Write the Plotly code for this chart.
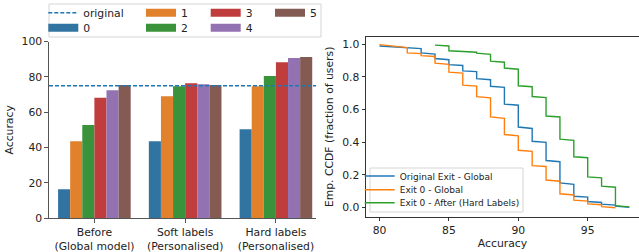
import plotly.graph_objects as go

# ---------------- data ----------------
CATEGORIES = ["Before<br>(Global model)", "Soft labels<br>(Personalised)", "Hard labels<br>(Personalised)"]
EXIT_NAMES = ["0", "1", "2", "3", "4", "5"]
EXIT_0 = [16.3, 43.6, 50.4]
EXIT_1 = [43.6, 69.1, 74.8]
EXIT_2 = [52.7, 74.8, 80.5]
EXIT_3 = [68.2, 76.5, 88.4]
EXIT_4 = [72.5, 75.9, 90.7]
EXIT_5 = [75.4, 75.4, 91.3]
ORIGINAL = 75.0

# CCDF step data: value just before each step (x) and value just after it
BLUE_X = [80, 81, 82, 83, 84, 85, 86, 87, 88, 89, 90, 91, 92, 93, 94, 95, 96, 97, 98]
BLUE_BEFORE = [None, 0.984, 0.979, 0.972, 0.938, 0.904, 0.869, 0.831, 0.782, 0.735, 0.626,
               0.484, 0.399, 0.281, 0.143, 0.065, 0.032, 0.016, 0.002]
BLUE_AFTER = [0.988, 0.984, 0.979, 0.946, 0.911, 0.874, 0.836, 0.788, 0.742, 0.633, 0.493,
              0.406, 0.288, 0.151, 0.070, 0.038, 0.022, 0.009, None]

ORANGE_X = [80, 81, 82, 83, 84, 85, 86, 87, 88, 89, 90, 91, 92, 93, 94, 95, 96, 97]
ORANGE_BEFORE = [None, 0.987, 0.978, 0.941, 0.924, 0.876, 0.822, 0.743, 0.671, 0.546, 0.439,
                 0.344, 0.252, 0.162, 0.078, 0.040, 0.018, 0.0]
ORANGE_AFTER = [0.996, 0.987, 0.946, 0.929, 0.883, 0.828, 0.749, 0.678, 0.555, 0.447, 0.351,
                0.257, 0.169, 0.085, 0.046, 0.023, 0.006, None]

GREEN_X = [84, 85, 86, 87, 88, 89, 90, 91, 92, 93, 94, 95, 96, 97, 98]
GREEN_BEFORE = [None, 0.988, 0.955, 0.950, 0.937, 0.889, 0.846, 0.739, 0.673, 0.554, 0.411,
                0.305, 0.182, 0.125, 0.005]
GREEN_AFTER = [0.993, 0.959, 0.955, 0.944, 0.895, 0.853, 0.745, 0.679, 0.560, 0.419, 0.311,
               0.188, 0.132, 0.012, None]

SERIES_NAMES = ["Original Exit - Global", "Exit 0 - Global", "Exit 0 - After (Hard Labels)"]

# ---------------- styles ----------------
BAR_COLORS = ["#3274a1", "#e1812c", "#3a923a", "#c03d3e", "#9372b2", "#845b53"]
LINE_COLORS = ["#1f77b4", "#ff7f0e", "#2ca02c"]
FONT = "DejaVu Sans"
TXT = "#222222"
W, H = 639, 252
ML, MR, MT, MB = 49, 0, 37, 34
PW, PH = W - ML - MR, H - MT - MB


def px(xp):
    return (xp - ML) / PW


def py(yp):
    return (H - MB - yp) / PH


def step_path(xs, before, after):
    X, Y = [], []
    for x, b, a in zip(xs, before, after):
        if b is not None:
            X.append(x); Y.append(b)
        if a is not None:
            X.append(x); Y.append(a)
    return X, Y


fig = go.Figure()

# ---------------- left: bars ----------------
exits = [EXIT_0, EXIT_1, EXIT_2, EXIT_3, EXIT_4, EXIT_5]
for name, vals, col in zip(EXIT_NAMES, exits, BAR_COLORS):
    fig.add_trace(go.Bar(x=CATEGORIES, y=vals, name=name, marker=dict(color=col, line=dict(width=0)),
                         showlegend=False, xaxis="x", yaxis="y"))

fig.add_shape(type="line", xref="x domain", yref="y", x0=0, x1=1, y0=ORIGINAL, y1=ORIGINAL,
              line=dict(color="#1f77b4", width=1.4, dash="4px,2px"))

# legend entries (left) -- each in its own legend for matplotlib-like column layout
left_items = [
    ("original", dict(color="#1f77b4", width=1.4, dash="4px,2px"), 83.3, 12.7),
    ("0", dict(color=BAR_COLORS[0], width=8), 83.3, 27.7),
    ("1", dict(color=BAR_COLORS[1], width=8), 181, 12.7),
    ("2", dict(color=BAR_COLORS[2], width=8), 181, 27.7),
    ("3", dict(color=BAR_COLORS[3], width=8), 245.7, 12.7),
    ("4", dict(color=BAR_COLORS[4], width=8), 245.7, 27.7),
    ("5", dict(color=BAR_COLORS[5], width=8), 310, 12.7),
]
legend_layouts = {}
k = 1
for name, line, tx, ty in left_items:
    lname = "legend" if k == 1 else f"legend{k}"
    fig.add_trace(go.Scatter(x=[None], y=[None], mode="lines", name=name, line=line,
                             legend=lname, xaxis="x", yaxis="y", hoverinfo="skip"))
    legend_layouts[lname] = dict(x=px(tx - 40), y=py(ty), xanchor="left", yanchor="middle",
                                 bgcolor="rgba(0,0,0,0)", borderwidth=0,
                                 font=dict(family=FONT, size=10.8, color=TXT))
    k += 1

# ---------------- right: CCDF ----------------
right_pos = [176, 189.7, 202.7]
for name, col, (xs, b, a), ty in zip(SERIES_NAMES, LINE_COLORS,
                                      [(BLUE_X, BLUE_BEFORE, BLUE_AFTER),
                                       (ORANGE_X, ORANGE_BEFORE, ORANGE_AFTER),
                                       (GREEN_X, GREEN_BEFORE, GREEN_AFTER)], right_pos):
    X, Y = step_path(xs, b, a)
    lname = f"legend{k}"
    fig.add_trace(go.Scatter(x=X, y=Y, mode="lines", name=name, line=dict(color=col, width=1.4),
                             legend=lname, xaxis="x2", yaxis="y2"))
    legend_layouts[lname] = dict(x=px(399.7 - 40), y=py(ty), xanchor="left", yanchor="middle",
                                 bgcolor="rgba(0,0,0,0)", borderwidth=0,
                                 font=dict(family=FONT, size=9, color=TXT))
    k += 1

# legend frames
fig.add_shape(type="rect", xref="paper", yref="paper", x0=px(49), x1=px(321), y0=py(37), y1=py(4),
              line=dict(color="#d5d5d5", width=1), fillcolor="rgba(255,255,255,0.8)", layer="above")
fig.add_shape(type="rect", xref="paper", yref="paper", x0=px(370), x1=px(523), y0=py(212), y1=py(168),
              line=dict(color="#d5d5d5", width=1), fillcolor="rgba(255,255,255,0.8)", layer="above")

tickfont = dict(family=FONT, size=10.8, color=TXT)
titlefont = dict(family=FONT, size=10.8, color=TXT)

fig.update_layout(
    width=W, height=H,
    margin=dict(l=ML, r=MR, t=MT, b=MB, autoexpand=False),
    paper_bgcolor="white", plot_bgcolor="white",
    barmode="group", bargap=0.2, bargroupgap=0,
    font=dict(family=FONT, color=TXT),
    xaxis=dict(domain=[0, px(316)], type="category", range=[-0.5, 2.4416],
               showline=True, linecolor="#555555", linewidth=1.3, ticks="outside", ticklen=3.5,
               tickcolor="#555555", tickfont=tickfont, showgrid=False, zeroline=False),
    yaxis=dict(domain=[0, py(41.7)], range=[0, 100], tickvals=[0, 20, 40, 60, 80, 100],
               showline=True, linecolor="#555555", linewidth=1.3, ticks="outside", ticklen=3.5,
               tickcolor="#555555", tickfont=tickfont, showgrid=False, zeroline=False,
               title=dict(text="Accuracy", font=titlefont, standoff=5)),
    xaxis2=dict(domain=[px(366), 1], range=[79.027, 98.696], tickvals=[80, 85, 90, 95],
                anchor="y2", showline=True, mirror=True, linecolor="#333333", linewidth=1,
                ticks="outside", ticklen=3.5, tickcolor="#333333", tickfont=tickfont,
                showgrid=False, zeroline=False,
                title=dict(text="Accuracy", font=titlefont, standoff=2)),
    yaxis2=dict(domain=[py(216.7), 1], range=[-0.055, 1.0428],
                tickvals=[0, 0.2, 0.4, 0.6, 0.8, 1.0], tickformat=".1f",
                anchor="x2", showline=True, linecolor="#333333", linewidth=1,
                ticks="outside", ticklen=3.5, tickcolor="#333333", tickfont=tickfont,
                showgrid=False, zeroline=False,
                title=dict(text="Emp. CCDF (fraction of users)", font=titlefont, standoff=6)),
    **legend_layouts,
)

fig.write_html("out.html", config={"displayModeBar": False},
               post_script="document.body.style.margin='0';document.body.style.padding='0';")
